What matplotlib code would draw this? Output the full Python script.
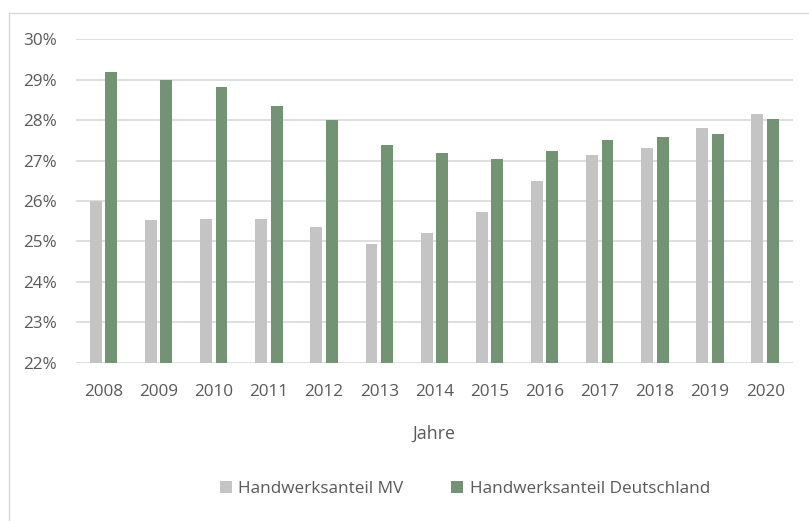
import matplotlib.pyplot as plt
import numpy as np
from matplotlib.lines import Line2D

plt.rcParams['font.family'] = ['Open Sans', 'DejaVu Sans']

# data (percent)
jahre = ['2008', '2009', '2010', '2011', '2012', '2013', '2014',
         '2015', '2016', '2017', '2018', '2019', '2020']
anteil_mv = [26.0, 25.53, 25.55, 25.55, 25.35, 24.93, 25.2,
             25.73, 26.5, 27.14, 27.3, 27.8, 28.14]
anteil_de = [29.18, 29.0, 28.83, 28.34, 28.0, 27.38, 27.19,
             27.04, 27.24, 27.5, 27.58, 27.66, 28.03]

fig = plt.figure(figsize=(8.09, 5.21), dpi=100)
ax = fig.add_axes([76/809, 1 - 362.7/521, (792.7 - 76)/809, (362.7 - 39.3)/521])

x = np.arange(len(jahre))
w = 0.215
ax.bar(x - 0.14, anteil_mv, width=w, bottom=0, color='#C4C4C4',
       label='Handwerksanteil MV', zorder=3)
ax.bar(x + 0.14, anteil_de, width=w, bottom=0, color='#739473',
       label='Handwerksanteil Deutschland', zorder=3)

ax.set_ylim(22, 30)
ax.set_xlim(-0.5, len(jahre) - 0.5)
ax.set_yticks(range(22, 31))
ax.set_yticklabels([f'{v}%' for v in range(22, 31)])
ax.set_xticks(x)
ax.set_xticklabels(jahre)
ax.grid(axis='y', color='#D9D9D9', linewidth=1.2, zorder=0)
for s in ax.spines.values():
    s.set_visible(False)
ax.tick_params(length=0, labelsize=12.3, colors='#595959')
ax.tick_params(axis='y', pad=14)
ax.tick_params(axis='x', pad=15)

ax.set_xlabel('Jahre', fontsize=12.8, color='#595959', labelpad=18)

fig.legend(loc='center', bbox_to_anchor=(465/809, 1 - 489/521), ncol=2,
           frameon=False, fontsize=12.3, labelcolor='#595959',
           handlelength=0.7, handleheight=0.7, handletextpad=0.4,
           columnspacing=2.8)

# light chart frame (left and top edges only)
top = 1 - 13/521
left = 9/809
fig.add_artist(Line2D([left, left], [0, top], transform=fig.transFigure,
                      color='#D9D9D9', linewidth=1))
fig.add_artist(Line2D([left, 1], [top, top], transform=fig.transFigure,
                      color='#D9D9D9', linewidth=1))

fig.savefig('out.png', dpi=100)
